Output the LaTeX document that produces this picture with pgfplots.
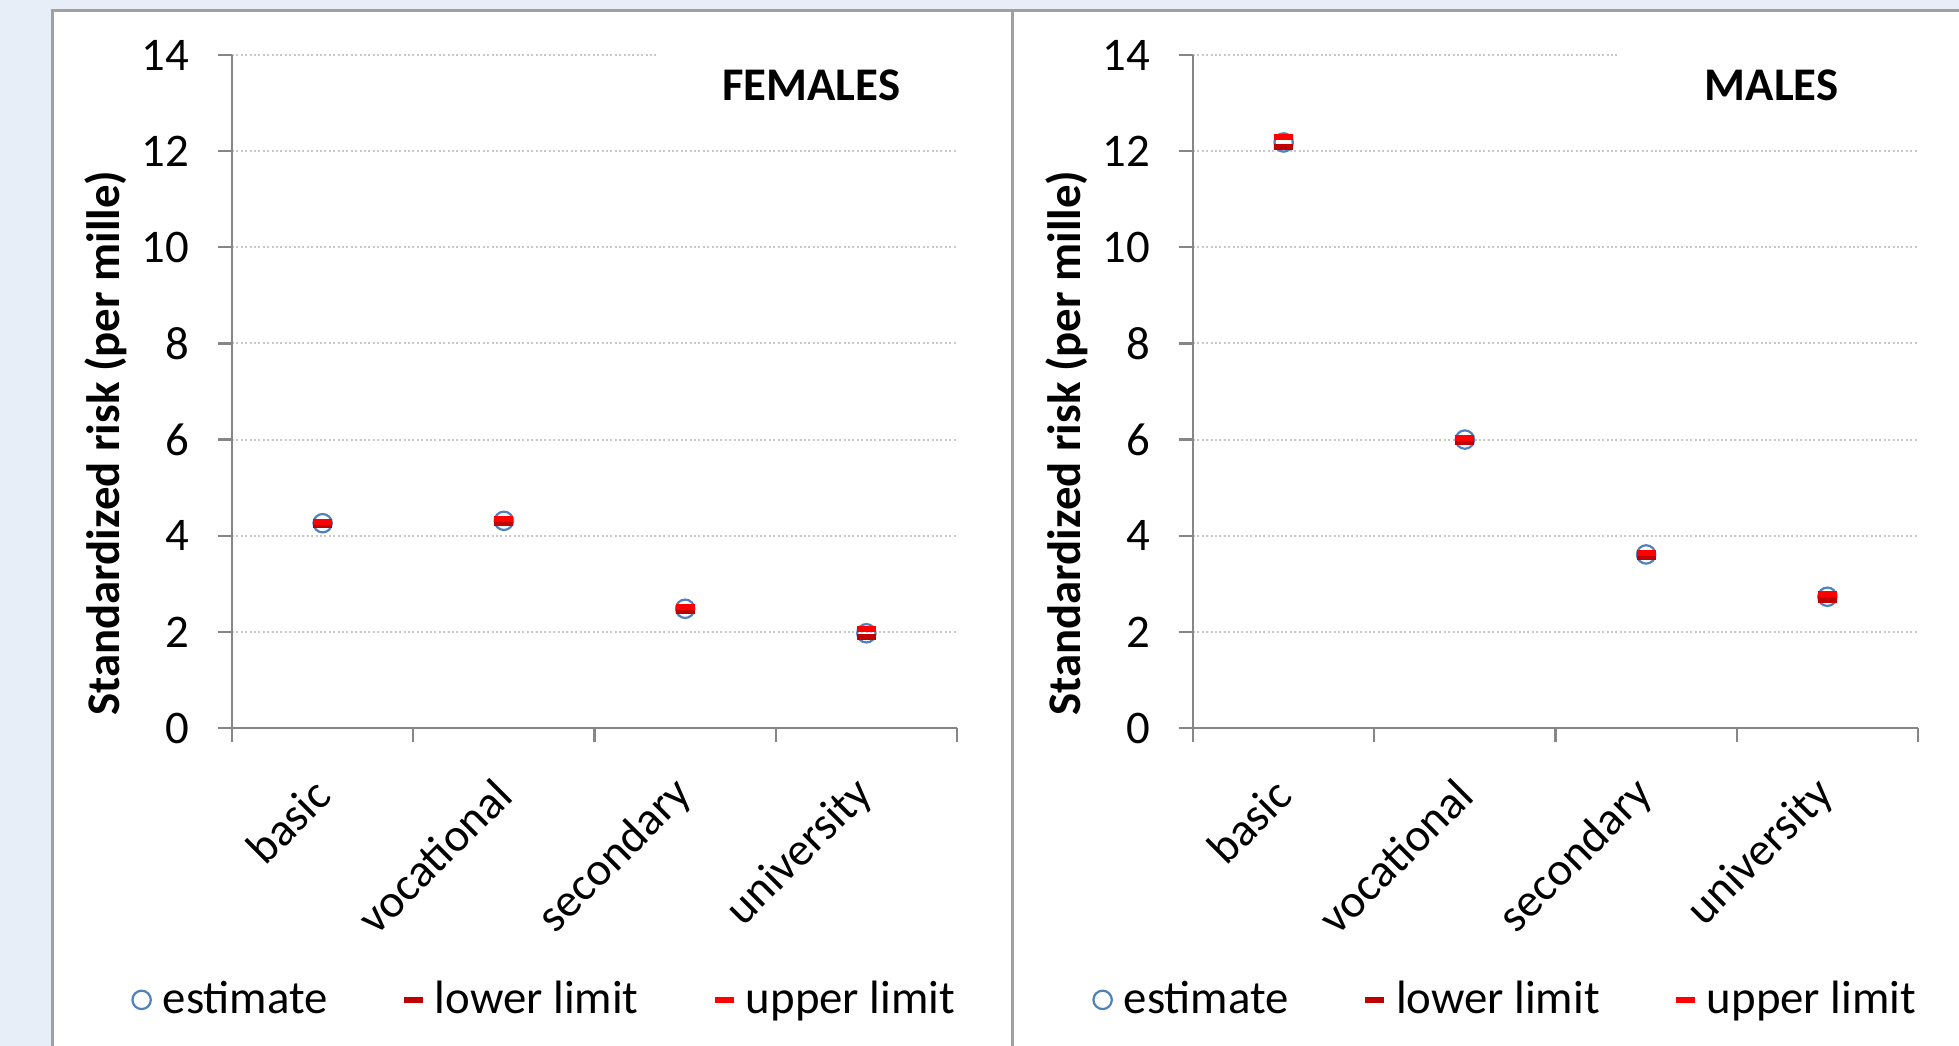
\documentclass[border=0pt]{standalone}
\usepackage{fontspec}
\setmainfont{Carlito}
\usepackage{pgfplots}
\pgfplotsset{compat=1.18}
\definecolor{bgblue}{RGB}{232,238,247}
\definecolor{framegray}{RGB}{160,160,160}
\definecolor{axgray}{RGB}{134,134,134}
\definecolor{gridgray}{RGB}{200,200,200}
\definecolor{estblue}{RGB}{79,129,189}
\definecolor{lowred}{RGB}{192,0,0}
\definecolor{upred}{RGB}{255,0,0}
\newcommand\cf{\fontsize{11.7pt}{14pt}\selectfont}

\pgfplotsset{
 panel/.style={
  scale only axis, width=181.25pt, height=168.25pt,
  xmin=0.5, xmax=4.5, ymin=0, ymax=14,
  axis lines=left, axis line style={-, axgray, line width=0.6pt},
  xtick={0.5,1.5,2.5,3.5,4.5}, xticklabels={},
  extra x ticks={1,2,3,4},
  extra x tick labels={basic,vocational,secondary,university},
  extra x tick style={major tick length=0pt,
     xticklabel style={xshift=0pt, yshift=-14.7pt, rotate=45, anchor=east, font=\cf, inner sep=0pt}},
  ytick={0,2,...,14},
  tick style={axgray, line width=0.6pt},
  tick align=outside, major tick length=3.6pt,
  yticklabel style={font=\cf, anchor=east, inner sep=0pt, xshift=-7pt},
  /pgf/number format/assume math mode=true,
  ymajorgrids, grid style={gridgray, line width=0.5pt, dash pattern=on 0.5pt off 0.6pt},
  ylabel={\cf\bfseries Standardized risk (per mille)},
  every axis y label/.style={at={(axis description cs:-0.174,0.423)}, rotate=90, anchor=center},
  legend columns=3,
  legend style={draw=none, fill=none, font=\cf, at={(axis description cs:-0.155,-0.404)}, anchor=west,
     /tikz/every odd column/.append style={column sep=1pt},
     /tikz/every even column/.append style={column sep=17pt}},
  legend image code/.code={\draw[mark repeat=2,mark phase=2,#1] plot coordinates {(0pt,0pt) (3pt,0pt) (7.5pt,0pt)};},
  clip=false,
 },
 est/.style={only marks, mark=o, mark size=2.3pt, mark options={draw=estblue, line width=0.55pt, fill=none}},
 low/.style={only marks, mark=-, mark size=2.4pt, mark options={draw=lowred, line width=1.5pt, line cap=butt}},
 up/.style={only marks, mark=-, mark size=2.4pt, mark options={draw=upred, line width=1.5pt, line cap=butt}},
}

\pgfplotstableread{
x est low up
1 4.26 4.23 4.28
2 4.31 4.27 4.34
3 2.48 2.44 2.52
4 1.97 1.89 2.05
}\females
\pgfplotstableread{
x est low up
1 12.18 12.08 12.29
2 6.00 5.95 6.04
3 3.61 3.56 3.65
4 2.73 2.67 2.79
}\males

\begin{document}
\begin{tikzpicture}
\path[use as bounding box] (0,0) rectangle (489.75pt,261.5pt);
\clip (0,0) rectangle (489.75pt,261.5pt);
\fill[bgblue] (0,0) rectangle (489.75pt,261.5pt);
\filldraw[fill=white, draw=framegray, line width=0.75pt] (13.1pt,-5pt) rectangle (253pt,258.8pt);
\filldraw[fill=white, draw=framegray, line width=0.75pt] (253pt,-5pt) rectangle (500pt,258.8pt);

\begin{axis}[panel, at={(58pt,79.5pt)}, anchor=south west]
\addplot[est] table[x=x, y=est] {\females};
\addplot[low] table[x=x, y=low] {\females};
\addplot[up] table[x=x, y=up] {\females};
\legend{estimate, lower limit, upper limit}
\fill[white] (rel axis cs:0.588,0.93) rectangle (rel axis cs:1.01,1.02);
\node[font=\cf\bfseries] at (rel axis cs:0.799,0.955) {FEMALES};
\end{axis}

\begin{axis}[panel, at={(298.25pt,79.5pt)}, anchor=south west]
\addplot[est] table[x=x, y=est] {\males};
\addplot[low] table[x=x, y=low] {\males};
\addplot[up] table[x=x, y=up] {\males};
\legend{estimate, lower limit, upper limit}
\fill[white] (rel axis cs:0.586,0.93) rectangle (rel axis cs:1.01,1.02);
\node[font=\cf\bfseries] at (rel axis cs:0.798,0.955) {MALES};
\end{axis}
\end{tikzpicture}
\end{document}
